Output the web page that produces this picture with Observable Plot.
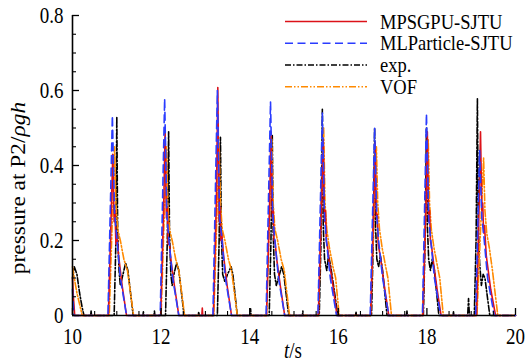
<!DOCTYPE html>
<html>
<head>
<meta charset="utf-8">
<script src="https://cdn.jsdelivr.net/npm/d3@7"></script>
<script src="https://cdn.jsdelivr.net/npm/@observablehq/plot@0.6"></script>
<style>
  html, body { margin: 0; padding: 0; background: #fff; }
  #chart { width: 525px; height: 362px; }
</style>
</head>
<body>
<div id="chart"></div>
<script>
// ---- data (t [s], pressure / rho g h) ----
const mpsgpu = [
  [10.00,0.10],[10.02,0.05],[10.05,0],
  [10.81,0],[10.88,0.30],[10.91,0.43],[10.94,0.25],[10.96,0.28],[10.98,0.19],[11.00,0.22],[11.04,0.16],[11.12,0.08],[11.22,0],
  [11.99,0],[12.06,0.30],[12.09,0.49],[12.12,0.26],[12.14,0.29],[12.16,0.19],[12.18,0.20],[12.22,0.15],[12.30,0.08],[12.40,0],
  [12.92,0],[12.93,0.02],[12.94,0],
  [13.18,0],[13.25,0.32],[13.28,0.608],[13.31,0.25],[13.33,0.29],[13.35,0.20],[13.37,0.22],[13.41,0.16],[13.49,0.08],[13.59,0],
  [14.38,0],[14.45,0.30],[14.48,0.49],[14.51,0.26],[14.53,0.28],[14.55,0.20],[14.57,0.20],[14.61,0.15],[14.69,0.08],[14.79,0],
  [15.55,0],[15.62,0.30],[15.66,0.47],[15.69,0.25],[15.71,0.28],[15.73,0.20],[15.76,0.18],[15.80,0.14],[15.88,0.08],[15.97,0],
  [16.73,0],[16.80,0.30],[16.83,0.46],[16.86,0.26],[16.88,0.27],[16.90,0.19],[16.93,0.17],[16.97,0.14],[17.05,0.07],[17.14,0],
  [17.91,0],[17.98,0.30],[18.01,0.49],[18.04,0.25],[18.06,0.28],[18.08,0.20],[18.11,0.18],[18.15,0.14],[18.23,0.07],[18.32,0],
  [19.12,0],[19.18,0.30],[19.21,0.49],[19.24,0.28],[19.26,0.30],[19.28,0.22],[19.30,0.24],[19.34,0.16],[19.44,0.07],[19.55,0],
  [20.00,0]
];
const mlparticle = [
  [10.00,0.07],[10.03,0],
  [10.80,0],[10.90,0.533],[10.95,0.27],[10.99,0.22],[11.08,0.10],[11.22,0],
  [11.98,0],[12.08,0.578],[12.13,0.27],[12.17,0.21],[12.26,0.10],[12.40,0],
  [13.17,0],[13.27,0.600],[13.32,0.26],[13.36,0.22],[13.45,0.10],[13.59,0],
  [14.37,0],[14.47,0.570],[14.52,0.27],[14.56,0.21],[14.65,0.10],[14.79,0],
  [15.54,0],[15.64,0.540],[15.69,0.26],[15.73,0.20],[15.82,0.10],[15.96,0],
  [16.72,0],[16.82,0.500],[16.87,0.26],[16.91,0.20],[17.00,0.10],[17.14,0],
  [17.90,0],[17.99,0.538],[18.04,0.26],[18.08,0.21],[18.17,0.10],[18.31,0],
  [19.10,0],[19.19,0.440],[19.24,0.26],[19.28,0.22],[19.37,0.10],[19.52,0],
  [20.00,0]
];
const experiment = [
  [10.00,0.10],[10.04,0.13],[10.10,0.11],[10.16,0.06],[10.22,0.02],[10.26,0],
  [10.41,0],[10.42,0.012],[10.43,0],
  [10.94,0],[10.98,0.20],[11.00,0.53],[11.02,0.22],[11.05,0.12],[11.08,0.08],[11.12,0.10],[11.20,0.14],[11.25,0.12],[11.37,0],
  [11.59,0],[11.60,0.010],[11.61,0],[11.84,0],[11.85,0.012],[11.86,0],
  [12.10,0],[12.14,0.20],[12.17,0.49],[12.19,0.22],[12.22,0.11],[12.25,0.08],[12.29,0.11],[12.35,0.14],[12.40,0.12],[12.52,0],
  [12.84,0],[12.85,0.010],[12.86,0],
  [13.27,0],[13.31,0.20],[13.34,0.475],[13.36,0.22],[13.39,0.11],[13.44,0.09],[13.50,0.11],[13.58,0.13],[13.62,0.11],[13.72,0],
  [14.01,0],[14.02,0.018],[14.03,0],
  [14.44,0],[14.48,0.20],[14.51,0.48],[14.53,0.22],[14.56,0.11],[14.60,0.08],[14.65,0.10],[14.72,0.13],[14.77,0.11],[14.88,0],
  [15.19,0],[15.20,0.012],[15.21,0],
  [15.57,0],[15.61,0.20],[15.64,0.55],[15.66,0.24],[15.69,0.15],[15.74,0.12],[15.78,0.16],[15.83,0.13],[15.88,0.09],[15.99,0],
  [16.39,0],[16.40,0.010],[16.41,0],
  [16.75,0],[16.79,0.20],[16.82,0.50],[16.84,0.24],[16.87,0.15],[16.91,0.13],[16.95,0.16],[17.00,0.12],[17.10,0],
  [17.54,0],[17.55,0.012],[17.56,0],
  [17.92,0],[17.96,0.20],[17.99,0.50],[18.01,0.24],[18.04,0.15],[18.08,0.12],[18.12,0.15],[18.17,0.12],[18.27,0],
  [18.59,0],[18.60,0.010],[18.61,0],
  [18.92,0],[18.94,0.045],[18.96,0],
  [19.07,0],[19.11,0.20],[19.14,0.578],[19.16,0.24],[19.19,0.14],[19.23,0.08],[19.27,0.11],[19.31,0.10],[19.42,0],
  [20.00,0]
];
const vof = [
  [10.00,0.13],[10.04,0.10],[10.10,0.06],[10.18,0.02],[10.22,0],
  [10.83,0],[10.95,0.45],[10.98,0.30],[11.02,0.23],[11.08,0.20],[11.16,0.15],[11.24,0.12],[11.38,0],
  [12.00,0],[12.12,0.45],[12.15,0.30],[12.19,0.23],[12.25,0.20],[12.33,0.15],[12.40,0.12],[12.53,0],
  [13.19,0],[13.31,0.46],[13.34,0.30],[13.38,0.23],[13.44,0.20],[13.52,0.15],[13.59,0.12],[13.72,0],
  [14.38,0],[14.50,0.47],[14.53,0.30],[14.57,0.23],[14.63,0.20],[14.71,0.15],[14.78,0.12],[14.90,0],
  [15.55,0],[15.67,0.50],[15.70,0.30],[15.74,0.23],[15.80,0.18],[15.88,0.13],[15.94,0.10],[16.02,0],
  [16.73,0],[16.86,0.45],[16.89,0.30],[16.93,0.23],[16.99,0.18],[17.07,0.13],[17.12,0.10],[17.20,0],
  [17.90,0],[18.03,0.47],[18.06,0.30],[18.10,0.23],[18.16,0.18],[18.24,0.13],[18.29,0.10],[18.37,0],
  [19.13,0],[19.28,0.42],[19.31,0.28],[19.35,0.22],[19.41,0.18],[19.48,0.12],[19.52,0.08],[19.60,0],
  [20.00,0]
];
const seriesNames = ["MPSGPU-SJTU", "MLParticle-SJTU", "exp.", "VOF"];
const xMajor = [10, 12, 14, 16, 18, 20];
const xMinor = [10.5, 11, 11.5, 12.5, 13, 13.5, 14.5, 15, 15.5, 16.5, 17, 17.5, 18.5, 19, 19.5];
const yMajor = [0, 0.2, 0.4, 0.6, 0.8];
const yMinor = [0.05, 0.1, 0.15, 0.25, 0.3, 0.35, 0.45, 0.5, 0.55, 0.65, 0.7, 0.75];
const yTickLabels = ["0", "0.2", "0.4", "0.6", "0.8"];
const xTickLabels = ["10", "12", "14", "16", "18", "20"];

// ---- styles ----
const styles = {
  "MPSGPU-SJTU":     {stroke: "#dc1219", dash: null,              width: 1.6},
  "MLParticle-SJTU": {stroke: "#2a3cff", dash: "8,4.5",           width: 1.6},
  "exp.":            {stroke: "#000000", dash: "6,2,1.5,2",       width: 1.6},
  "VOF":             {stroke: "#ff8a00", dash: "7,2,1.5,2,1.5,2", width: 1.6}
};
const dataByName = {
  "MPSGPU-SJTU": mpsgpu, "MLParticle-SJTU": mlparticle, "exp.": experiment, "VOF": vof
};
const drawOrder = ["exp.", "VOF", "MPSGPU-SJTU", "MLParticle-SJTU"];
const fontFam = "'Liberation Serif', 'Times New Roman', serif";
const stretch = 1.17; // glyphs in the reference are taller than wide

const lineMarks = drawOrder.map(name => Plot.line(dataByName[name], {
  x: d => d[0], y: d => d[1],
  stroke: styles[name].stroke,
  strokeWidth: styles[name].width,
  strokeDasharray: styles[name].dash,
  strokeLinejoin: "round"
}));

const chart = Plot.plot({
  width: 525,
  height: 362,
  marginLeft: 72,
  marginRight: 10,
  marginTop: 15,
  marginBottom: 47,
  x: {domain: [10, 20]},
  y: {domain: [0, 0.8]},
  style: {fontFamily: fontFam, fontSize: "19px", color: "#000", background: "#fff", overflow: "visible"},
  marks: [
    ...lineMarks,
    Plot.ruleX([10], {stroke: "#000", strokeWidth: 1.6}),
    Plot.ruleY([0], {stroke: "#000", strokeWidth: 1.6}),
    Plot.axisY(yMajor, {tickSize: -7, tickPadding: 16, strokeWidth: 1.3,
      tickFormat: d => yTickLabels[yMajor.indexOf(d)], label: null}),
    Plot.axisY(yMinor, {tickSize: -4, strokeWidth: 1.1, tickFormat: () => "", label: null}),
    Plot.axisX(xMajor, {tickSize: -7, tickPadding: 20, strokeWidth: 1.3,
      tickFormat: d => xTickLabels[xMajor.indexOf(d)], label: null}),
    Plot.axisX(xMinor, {tickSize: -4, strokeWidth: 1.1, tickFormat: () => "", label: null})
  ]
});

const svg = d3.select(chart);
// serif 19px tick labels, slightly stretched vertically like the reference
svg.selectAll("text")
  .style("font-family", fontFam)
  .style("font-size", "19px")
  .attr("fill", "#000")
  .each(function () {
    const tr = this.getAttribute("transform") || "";
    this.setAttribute("transform", tr + ` scale(1,${stretch})`);
  });

// y-axis label
const yl = svg.append("text")
  .attr("transform", `translate(25,188) rotate(-90) scale(${stretch},1)`)
  .attr("text-anchor", "middle")
  .style("font-family", fontFam)
  .style("font-size", "20px")
  .attr("fill", "#000");
yl.append("tspan").text("pressure at P2/");
yl.append("tspan").attr("font-style", "italic").text("ρgh");

// x-axis label
const xl = svg.append("text")
  .attr("transform", `translate(293,358) scale(1,${stretch})`)
  .attr("text-anchor", "middle")
  .style("font-family", fontFam)
  .style("font-size", "19px")
  .attr("fill", "#000");
xl.append("tspan").attr("font-style", "italic").text("t");
xl.append("tspan").text("/s");

// legend
const legendY = [21.5, 43.2, 65, 86.7];
const lg = svg.append("g");
seriesNames.forEach((name, i) => {
  const s = styles[name];
  lg.append("line")
    .attr("x1", 285).attr("x2", 367)
    .attr("y1", legendY[i]).attr("y2", legendY[i])
    .attr("stroke", s.stroke).attr("stroke-width", s.width)
    .attr("stroke-dasharray", s.dash);
  lg.append("text")
    .attr("transform", `translate(380,${legendY[i] + 7}) scale(1,${stretch})`)
    .attr("text-anchor", "start")
    .style("font-family", fontFam).style("font-size", "18.5px")
    .attr("fill", "#000")
    .text(name);
});

document.getElementById("chart").append(chart);
</script>
</body>
</html>
